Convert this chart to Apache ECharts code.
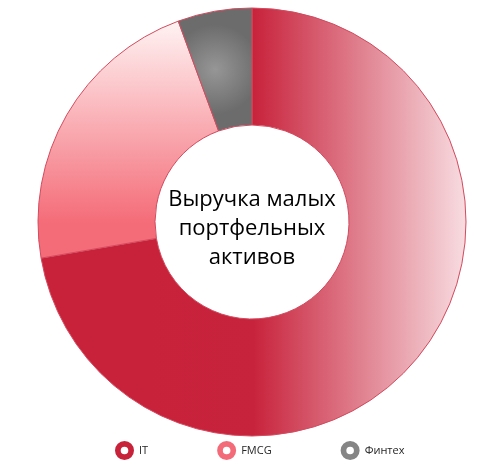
<!DOCTYPE html>
<html>
<head>
<meta charset="utf-8">
<script src="https://cdn.jsdelivr.net/npm/echarts@6/dist/echarts.min.js"></script>
<style>
    html, body { margin: 0; padding: 0; background: #fff; }
    #chart { width: 498px; height: 471px; }
</style>
</head>
<body>
<div id="chart"></div>
<script>
    var categories = ['IT', 'FMCG', 'Финтех'];
    var shares = [72.3, 22.1, 5.6];
    var legendColors = ['#C8213A', '#F36B78', '#858585'];
    var centerTitle = 'Выручка малых\nпортфельных\nактивов';

    // кольцо для значков легенды
    var ringIcon = 'path://M0,-10A10,10 0 1,1 0,10A10,10 0 1,1 0,-10Z' +
        'M0,-4A4,4 0 1,0 0,4A4,4 0 1,0 0,-4Z';

    // заливки секторов
    var fills = [
        new echarts.graphic.LinearGradient(0, 0, 1, 0, [
            { offset: 0, color: '#C8213A' },
            { offset: 0.5, color: '#C8233C' },
            { offset: 1, color: '#F8DDE1' }
        ]),
        new echarts.graphic.LinearGradient(0, 0, 0, 1, [
            { offset: 0, color: '#FFF3F3' },
            { offset: 0.85, color: '#F46C78' },
            { offset: 1, color: '#F46C78' }
        ]),
        new echarts.graphic.RadialGradient(0.5, 0.5, 0.6, [
            { offset: 0, color: '#969696' },
            { offset: 1, color: '#6C6C6C' }
        ])
    ];

    var pieData = [];
    var legendData = [];
    for (var i = 0; i < categories.length; i++) {
        pieData.push({
            name: categories[i],
            value: shares[i],
            itemStyle: { color: fills[i] }
        });
        legendData.push({
            name: categories[i],
            icon: ringIcon,
            itemStyle: { color: legendColors[i], borderWidth: 0 }
        });
    }

    var chart = echarts.init(document.getElementById('chart'));
    var option = {
        animation: false,
        legend: {
            data: legendData,
            left: 110,
            top: 436,
            itemWidth: 19,
            itemHeight: 19,
            itemGap: 69,
            selectedMode: false,
            textStyle: {
                fontFamily: 'Open Sans',
                fontSize: 11,
                color: '#262626'
            }
        },
        graphic: [{
            type: 'text',
            x: 252,
            y: 229,
            style: {
                text: centerTitle,
                fontFamily: 'Open Sans',
                fontSize: 22,
                lineHeight: 29,
                fill: '#000',
                align: 'center',
                verticalAlign: 'middle'
            }
        }],
        series: [{
            type: 'pie',
            center: [252, 222],
            radius: [97, 214],
            startAngle: 90,
            silent: true,
            label: { show: false },
            labelLine: { show: false },
            itemStyle: {
                borderColor: '#D24A5E',
                borderWidth: 1
            },
            emphasis: { disabled: true },
            data: pieData
        }]
    };
    chart.setOption(option);
</script>
</body>
</html>
